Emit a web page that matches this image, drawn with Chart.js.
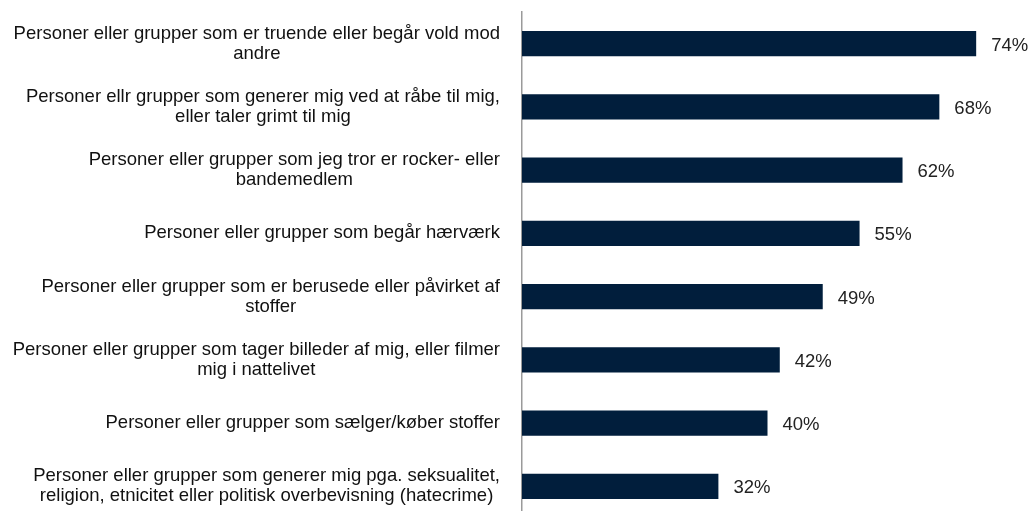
<!DOCTYPE html>
<html>
<head>
<meta charset="utf-8">
<script src="https://cdn.jsdelivr.net/npm/chart.js@4"></script>
<style>
   html, body { margin: 0; padding: 0; background: #fff; overflow: hidden; }
   #wrap { width: 1035px; height: 518px; position: relative; }
</style>
</head>
<body>
<div id="wrap"><canvas id="chart"></canvas></div>
<script>
// categories, each label split into its lines
const categories = [
   ['Personer eller grupper som er truende eller begår vold mod', 'andre'],
   ['Personer ellr grupper som generer mig ved at råbe til mig,', 'eller taler grimt til mig'],
   ['Personer eller grupper som jeg tror er rocker- eller', 'bandemedlem'],
   ['Personer eller grupper som begår hærværk'],
   ['Personer eller grupper som er berusede eller påvirket af', 'stoffer'],
   ['Personer eller grupper som tager billeder af mig, eller filmer', 'mig i nattelivet'],
   ['Personer eller grupper som sælger/køber stoffer'],
   ['Personer eller grupper som generer mig pga. seksualitet,', 'religion, etnicitet eller politisk overbevisning (hatecrime)']
];
const values = [74, 68, 62, 55, 49, 42, 40, 32];

const barColor = '#011e3c';
const textFont = '18.5px "Liberation Sans", Arial, sans-serif';

// category labels: block right-aligned to the axis, lines centred inside the block
const categoryLabels = {
   id: 'categoryLabels',
   afterDraw(chart){
      let ctx = chart.ctx;
      let yScale = chart.scales.y;
      let right = chart.chartArea.left - 22;
      ctx.save();
      ctx.font = textFont;
      ctx.fillStyle = '#111';
      ctx.textAlign = 'center';
      ctx.textBaseline = 'middle';
      categories.forEach((lines, i) => {
         let widest = Math.max(...lines.map(l => ctx.measureText(l).width));
         let cx = right - widest / 2;
         let cy = yScale.getPixelForValue(i);
         let lineHeight = 20;
         let start = cy - (lines.length - 1) * lineHeight / 2;
         lines.forEach((line, j) => {
            ctx.fillText(line, cx, start + j * lineHeight);
         });
      });
      ctx.restore();
   }
};

// percent labels right of each bar
const valueLabels = {
   id: 'valueLabels',
   afterDatasetsDraw(chart){
      let ctx = chart.ctx;
      let meta = chart.getDatasetMeta(0);
      ctx.save();
      ctx.font = textFont;
      ctx.fillStyle = '#222';
      ctx.textAlign = 'left';
      ctx.textBaseline = 'middle';
      meta.data.forEach((bar, i) => {
         ctx.fillText(values[i] + '%', bar.x + 15, bar.y + 2);
      });
      ctx.restore();
   }
};

new Chart(document.getElementById('chart'), {
   type: 'bar',
   data: {
      labels: categories,
      datasets: [{
         data: values,
         backgroundColor: barColor,
         borderWidth: 0,
         categoryPercentage: 1,
         barPercentage: 0.4
      }]
   },
   options: {
      indexAxis: 'y',
      responsive: true,
      maintainAspectRatio: false,
      animation: false,
      layout: { padding: { left: 514, top: 12, right: 22, bottom: 0 } },
      plugins: { legend: { display: false }, tooltip: { enabled: false } },
      scales: {
         x: { display: false, min: 0, max: 80 },
         y: {
            grid: { display: false },
            border: { display: true, color: '#9a9a9a', width: 1.5 },
            ticks: { display: false }
         }
      }
   },
   plugins: [categoryLabels, valueLabels]
});
</script>
</body>
</html>
